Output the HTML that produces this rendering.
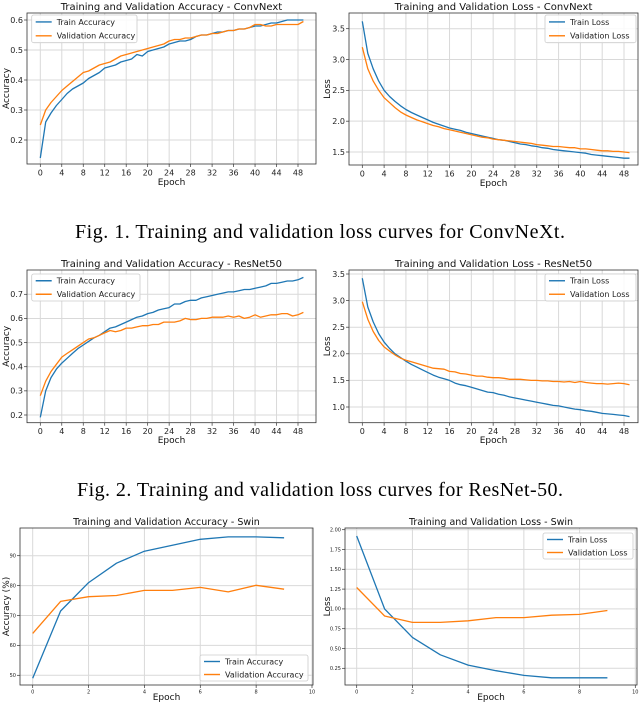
<!DOCTYPE html>
<html><head><meta charset="utf-8"><style>
html,body{margin:0;padding:0;background:#fff;}
svg{display:block;font-family:"DejaVu Sans","Liberation Sans",sans-serif;}
</style></head><body>
<svg id="fig" width="640" height="705" viewBox="0 0 640 705" xmlns="http://www.w3.org/2000/svg">
<text x="320" y="238" text-anchor="middle" font-family="Liberation Serif, serif" font-size="20" textLength="490" lengthAdjust="spacing">Fig. 1.  Training and validation loss curves for ConvNeXt.</text>
<text x="320" y="496" text-anchor="middle" font-family="Liberation Serif, serif" font-size="20" textLength="486" lengthAdjust="spacing">Fig. 2.  Training and validation loss curves for ResNet-50.</text>
</svg>
<script>
const epochs50 = Array.from({length:50},(_, i)=>i);
const epochs10 = Array.from({length:10},(_, i)=>i);
const cnTrainAcc=[0.14,0.26,0.29,0.315,0.335,0.355,0.37,0.38,0.39,0.405,0.415,0.425,0.44,0.445,0.45,0.46,0.465,0.47,0.485,0.48,0.495,0.5,0.505,0.51,0.52,0.525,0.53,0.53,0.535,0.545,0.55,0.55,0.555,0.56,0.56,0.565,0.565,0.57,0.57,0.575,0.58,0.58,0.585,0.59,0.59,0.595,0.6,0.6,0.6,0.6];
const cnValAcc=[0.25,0.3,0.325,0.345,0.365,0.38,0.395,0.41,0.425,0.43,0.44,0.45,0.455,0.46,0.47,0.48,0.485,0.49,0.495,0.5,0.505,0.51,0.515,0.52,0.53,0.535,0.535,0.54,0.54,0.545,0.55,0.55,0.555,0.555,0.56,0.565,0.565,0.57,0.57,0.575,0.585,0.585,0.58,0.58,0.585,0.585,0.585,0.585,0.585,0.595];
const cnTrainLoss=[3.62,3.1,2.85,2.65,2.5,2.4,2.32,2.25,2.19,2.14,2.1,2.06,2.02,1.98,1.95,1.92,1.89,1.87,1.85,1.82,1.8,1.78,1.76,1.74,1.72,1.7,1.69,1.67,1.65,1.63,1.62,1.6,1.59,1.57,1.56,1.54,1.53,1.52,1.51,1.5,1.49,1.48,1.46,1.45,1.44,1.43,1.42,1.41,1.4,1.4];
const cnValLoss=[3.2,2.85,2.65,2.5,2.38,2.3,2.22,2.15,2.1,2.06,2.02,1.99,1.96,1.93,1.91,1.88,1.86,1.84,1.82,1.8,1.78,1.76,1.74,1.73,1.71,1.7,1.69,1.68,1.67,1.66,1.65,1.64,1.62,1.61,1.6,1.59,1.59,1.58,1.57,1.57,1.55,1.55,1.54,1.53,1.52,1.52,1.51,1.51,1.5,1.49];
const rnTrainAcc=[0.19,0.3,0.355,0.39,0.415,0.435,0.455,0.475,0.49,0.505,0.52,0.53,0.545,0.56,0.565,0.575,0.585,0.595,0.605,0.61,0.62,0.625,0.635,0.64,0.645,0.66,0.66,0.67,0.675,0.675,0.685,0.69,0.695,0.7,0.705,0.71,0.71,0.715,0.72,0.72,0.725,0.73,0.735,0.745,0.745,0.75,0.755,0.755,0.76,0.77];
const rnValAcc=[0.28,0.34,0.38,0.41,0.44,0.455,0.47,0.485,0.5,0.515,0.52,0.53,0.54,0.55,0.545,0.55,0.56,0.56,0.565,0.57,0.57,0.575,0.575,0.585,0.585,0.585,0.59,0.6,0.595,0.595,0.6,0.6,0.605,0.605,0.605,0.61,0.605,0.61,0.6,0.605,0.615,0.605,0.61,0.615,0.615,0.62,0.62,0.61,0.615,0.625];
const rnTrainLoss=[3.42,2.88,2.6,2.38,2.22,2.1,2.0,1.93,1.86,1.8,1.75,1.7,1.65,1.6,1.56,1.53,1.5,1.45,1.42,1.4,1.37,1.34,1.31,1.28,1.27,1.24,1.22,1.19,1.17,1.15,1.13,1.11,1.09,1.07,1.05,1.03,1.02,1.0,0.98,0.96,0.95,0.93,0.92,0.9,0.88,0.87,0.86,0.85,0.84,0.82];
const rnValLoss=[2.98,2.65,2.42,2.25,2.13,2.05,1.98,1.92,1.88,1.85,1.82,1.79,1.76,1.73,1.72,1.71,1.67,1.66,1.63,1.62,1.6,1.58,1.58,1.56,1.55,1.55,1.54,1.52,1.52,1.52,1.51,1.5,1.5,1.49,1.49,1.48,1.48,1.47,1.48,1.46,1.48,1.46,1.45,1.44,1.44,1.43,1.44,1.45,1.44,1.42];
const swTrainAcc=[49,71.5,81,87.5,91.5,93.5,95.5,96.3,96.3,96];
const swValAcc=[64,74.7,76.3,76.7,78.4,78.4,79.4,77.9,80.1,78.8];
const swTrainLoss=[1.92,1.0,0.64,0.42,0.29,0.22,0.16,0.13,0.13,0.13];
const swValLoss=[1.27,0.91,0.83,0.83,0.85,0.89,0.89,0.92,0.93,0.98];
const xTicks50=[0,4,8,12,16,20,24,28,32,36,40,44,48];
const xTicks10=[0,2,4,6,8,10];
const cnAccTicks=[0.2,0.3,0.4,0.5,0.6];
const cnLossTicks=[1.5,2.0,2.5,3.0,3.5];
const rnAccTicks=[0.2,0.3,0.4,0.5,0.6,0.7];
const rnLossTicks=[1.0,1.5,2.0,2.5,3.0,3.5];
const swAccTicks=[50,60,70,80,90];
const swLossTicks=[0.25,0.5,0.75,1.0,1.25,1.5,1.75,2.0];

const NS="http://www.w3.org/2000/svg";
const svg=document.getElementById('fig');
function mk(tag,attrs,parent){const e=document.createElementNS(NS,tag);for(const k in attrs)e.setAttribute(k,attrs[k]);(parent||svg).appendChild(e);return e;}

function chart(c){
  const g=mk('g',{});
  
  
  const sx=v=>c.xa[1]+(v-c.xa[0])*(c.xb[1]-c.xa[1])/(c.xb[0]-c.xa[0]);
  const sy=v=>c.ya[1]+(v-c.ya[0])*(c.yb[1]-c.ya[1])/(c.yb[0]-c.ya[0]);
  const f=c.frame;
  c.xt.forEach(t=>{const l=mk('line',{x1:sx(t),x2:sx(t),y1:f[1],y2:f[3],stroke:'#d9d9d9','stroke-width':1},g);
    const tk=mk('line',{x1:sx(t),x2:sx(t),y1:f[3],y2:f[3]+3,stroke:'#333','stroke-width':0.7},g);
    const tx=mk('text',{x:sx(t),y:f[3]+c.tfs+3.5,'text-anchor':'middle','font-size':c.tfs,fill:'#222'},g);tx.textContent=c.xfmt(t);});
  c.yt.forEach(t=>{const l=mk('line',{x1:f[0],x2:f[2],y1:sy(t),y2:sy(t),stroke:'#d9d9d9','stroke-width':1},g);
    const tk=mk('line',{x1:f[0]-3,x2:f[0],y1:sy(t),y2:sy(t),stroke:'#333','stroke-width':0.7},g);
    const tx=mk('text',{x:f[0]-4,y:sy(t)+c.tfs*0.35,'text-anchor':'end','font-size':c.tfs,fill:'#222'},g);tx.textContent=c.yfmt(t);});
  const cols=['#1f77b4','#ff7f0e'];
  c.series.forEach((s,i)=>{const p=mk('polyline',{points:c.x.map((xv,j)=>sx(xv).toFixed(1)+','+sy(s[j]).toFixed(1)).join(' '),fill:'none',stroke:cols[i],'stroke-width':1.3,'stroke-linejoin':'round'},g);
    });
  const fr=mk('rect',{x:f[0],y:f[1],width:f[2]-f[0],height:f[3]-f[1],fill:'none',stroke:'#333','stroke-width':0.8},g);
  const ti=mk('text',{x:(f[0]+f[2])/2,y:f[1]-3,'text-anchor':'middle','font-size':c.tifs,fill:'#111'},g);ti.textContent=c.title;
  const xl=mk('text',{x:(f[0]+f[2])/2,y:c.xly,'text-anchor':'middle','font-size':c.lfs,fill:'#111'},g);xl.textContent='Epoch';
  const yl=mk('text',{x:0,y:0,'text-anchor':'middle','font-size':c.lfs,fill:'#111',transform:`translate(${c.ylx},${(f[1]+f[3])/2}) rotate(-90)`},g);yl.textContent=c.ylabel;
  const L=c.leg;
  const lg=mk('g',{},g);
  mk('rect',{x:L[0],y:L[1],width:L[2]-L[0],height:L[3]-L[1],fill:'#fff','fill-opacity':0.85,stroke:'#ccc','stroke-width':0.8,rx:2},lg);
  const rh=(L[3]-L[1])/2;
  c.labels.forEach((lab,i)=>{const yy=L[1]+rh*(i+0.5);
    const ln=mk('line',{x1:L[0]+4,x2:L[0]+20,y1:yy,y2:yy,stroke:cols[i],'stroke-width':1.4},lg);
    const t=mk('text',{x:L[0]+25,y:yy+c.legfs*0.36,'font-size':c.legfs,fill:'#222'},lg);t.textContent=lab;});
}
const f1=v=>v.toFixed(1), f0=v=>String(v), f2=v=>v.toFixed(2);
const base={tfs:8,tifs:10,lfs:9,legfs:8};
chart({...base,name:'convnext-accuracy-chart',title:'Training and Validation Accuracy - ConvNext',ylabel:'Accuracy',x:epochs50,series:[cnTrainAcc,cnValAcc],labels:['Train Accuracy','Validation Accuracy'],
  xa:[0,40.3],xb:[48,298],ya:[0.6,20],yb:[0.2,140],frame:[27,13,316,164],xt:xTicks50,yt:cnAccTicks,xfmt:f0,yfmt:f1,xly:185,ylx:9,leg:[31.7,15,137,42.7]});
chart({...base,name:'convnext-loss-chart',title:'Training and Validation Loss - ConvNext',ylabel:'Loss',x:epochs50,series:[cnTrainLoss,cnValLoss],labels:['Train Loss','Validation Loss'],
  xa:[0,362.3],xb:[48,624],ya:[3.5,28.7],yb:[1.5,152],frame:[349,13,638,165],xt:xTicks50,yt:cnLossTicks,xfmt:f0,yfmt:f1,xly:186,ylx:330,leg:[545,15,636,42.7]});
chart({...base,name:'resnet50-accuracy-chart',title:'Training and Validation Accuracy - ResNet50',ylabel:'Accuracy',x:epochs50,series:[rnTrainAcc,rnValAcc],labels:['Train Accuracy','Validation Accuracy'],
  xa:[0,40.3],xb:[48,298],ya:[0.7,294.3],yb:[0.2,415],frame:[27,270,316,422.7],xt:xTicks50,yt:rnAccTicks,xfmt:f0,yfmt:f1,xly:443,ylx:9,leg:[31.7,274,140,301]});
chart({...base,name:'resnet50-loss-chart',title:'Training and Validation Loss - ResNet50',ylabel:'Loss',x:epochs50,series:[rnTrainLoss,rnValLoss],labels:['Train Loss','Validation Loss'],
  xa:[0,362.3],xb:[48,624],ya:[3.5,274],yb:[1.0,407],frame:[349,270,638,422.7],xt:xTicks50,yt:rnLossTicks,xfmt:f0,yfmt:f1,xly:443,ylx:330,leg:[545,274,636,301]});
chart({...base,tfs:5,tifs:9.5,lfs:9,legfs:8,name:'swin-accuracy-chart',title:'Training and Validation Accuracy - Swin',ylabel:'Accuracy (%)',x:epochs10,series:[swTrainAcc,swValAcc],labels:['Train Accuracy','Validation Accuracy'],
  xa:[0,32.7],xb:[10,312],ya:[90,555.7],yb:[50,675.3],frame:[20,528,313,685],xt:xTicks10,yt:swAccTicks,xfmt:f0,yfmt:f0,xly:700,ylx:9,leg:[200,655,308,681]});
chart({...base,tfs:5,tifs:9.5,lfs:9,legfs:8,name:'swin-loss-chart',title:'Training and Validation Loss - Swin',ylabel:'Loss',x:epochs10,series:[swTrainLoss,swValLoss],labels:['Train Loss','Validation Loss'],
  xa:[0,356.7],xb:[10,635.3],ya:[2.0,529.7],yb:[0.25,668.3],frame:[345,528,637,685],xt:xTicks10,yt:swLossTicks,xfmt:f0,yfmt:f2,xly:700,ylx:330,leg:[543,533,633,559]});
</script>
</body></html>
